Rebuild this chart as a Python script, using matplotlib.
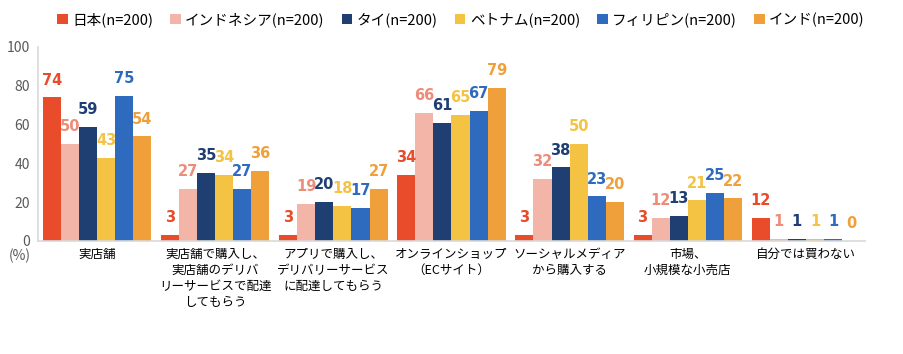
import numpy as np
import matplotlib.pyplot as plt

plt.rcParams['font.family'] = ['Noto Sans CJK JP', 'DejaVu Sans']

categories = [
    "実店舗",
    "実店舗で購入し、\n実店舗のデリバ\nリーサービスで配達\nしてもらう",
    "アプリで購入し、\nデリバリーサービス\nに配達してもらう",
    "オンラインショップ\n（ECサイト）",
    "ソーシャルメディア\nから購入する",
    "市場、\n小規模な小売店",
    "自分では買わない",
]
series_names = ["日本(n=200)", "インドネシア(n=200)", "タイ(n=200)",
                "ベトナム(n=200)", "フィリピン(n=200)", "インド(n=200)"]
japan = [74, 3, 3, 34, 3, 3, 12]
indonesia = [50, 27, 19, 66, 32, 12, 1]
thailand = [59, 35, 20, 61, 38, 13, 1]
vietnam = [43, 34, 18, 65, 50, 21, 1]
philippines = [75, 27, 17, 67, 23, 25, 1]
india = [54, 36, 27, 79, 20, 22, 0]

series = [japan, indonesia, thailand, vietnam, philippines, india]
bar_colors = ["#E84C2B", "#F2B5A8", "#1F3F73", "#F4C343", "#2E6BBF", "#F0A03A"]
label_colors = ["#E84C2B", "#EE8C7A", "#1F3F73", "#F4C343", "#2E6BBF", "#F0A03A"]

fig = plt.figure(figsize=(9.04, 3.54), dpi=100)
ax = fig.add_axes([38 / 904, 1 - 241 / 354, (865 - 38) / 904, (241 - 47) / 354])

x = np.arange(len(categories))
w = 0.153
for i, (vals, c, lc, name) in enumerate(zip(series, bar_colors, label_colors, series_names)):
    pos = x + (i - 2.5) * w
    ax.bar(pos, vals, width=w, color=c, label=name)
    for xp, v in zip(pos, vals):
        ax.annotate(str(v), (xp, v), xytext=(0, 7), textcoords="offset points",
                    ha="center", va="bottom", color=lc, fontsize=10.5,
                    fontweight="bold", family="DejaVu Sans")

ax.set_xlim(-0.5, len(categories) - 0.5)
ax.set_ylim(0, 100)
ax.set_yticks(range(0, 101, 20))
ax.tick_params(axis="y", length=0, labelsize=10, labelcolor="#595959", pad=6)
ax.tick_params(axis="x", length=0, labelsize=9, pad=5)
ax.set_xticks(x)
ax.set_xticklabels(categories, linespacing=1.3)
for s in ["top", "right"]:
    ax.spines[s].set_visible(False)
for s in ["left", "bottom"]:
    ax.spines[s].set_color("#D9D9D9")
    ax.spines[s].set_linewidth(1.2)

fig.text(20 / 904, 1 - 256 / 354, "(%)", ha="center", va="center",
         fontsize=10, color="#595959")

fig.legend(loc="center", bbox_to_anchor=(0.51, 1 - 20 / 354), ncol=6, frameon=False,
           fontsize=10.5, handlelength=0.7, handleheight=0.7, handletextpad=0.3,
           columnspacing=1.2)

fig.savefig("out.png", dpi=100)
